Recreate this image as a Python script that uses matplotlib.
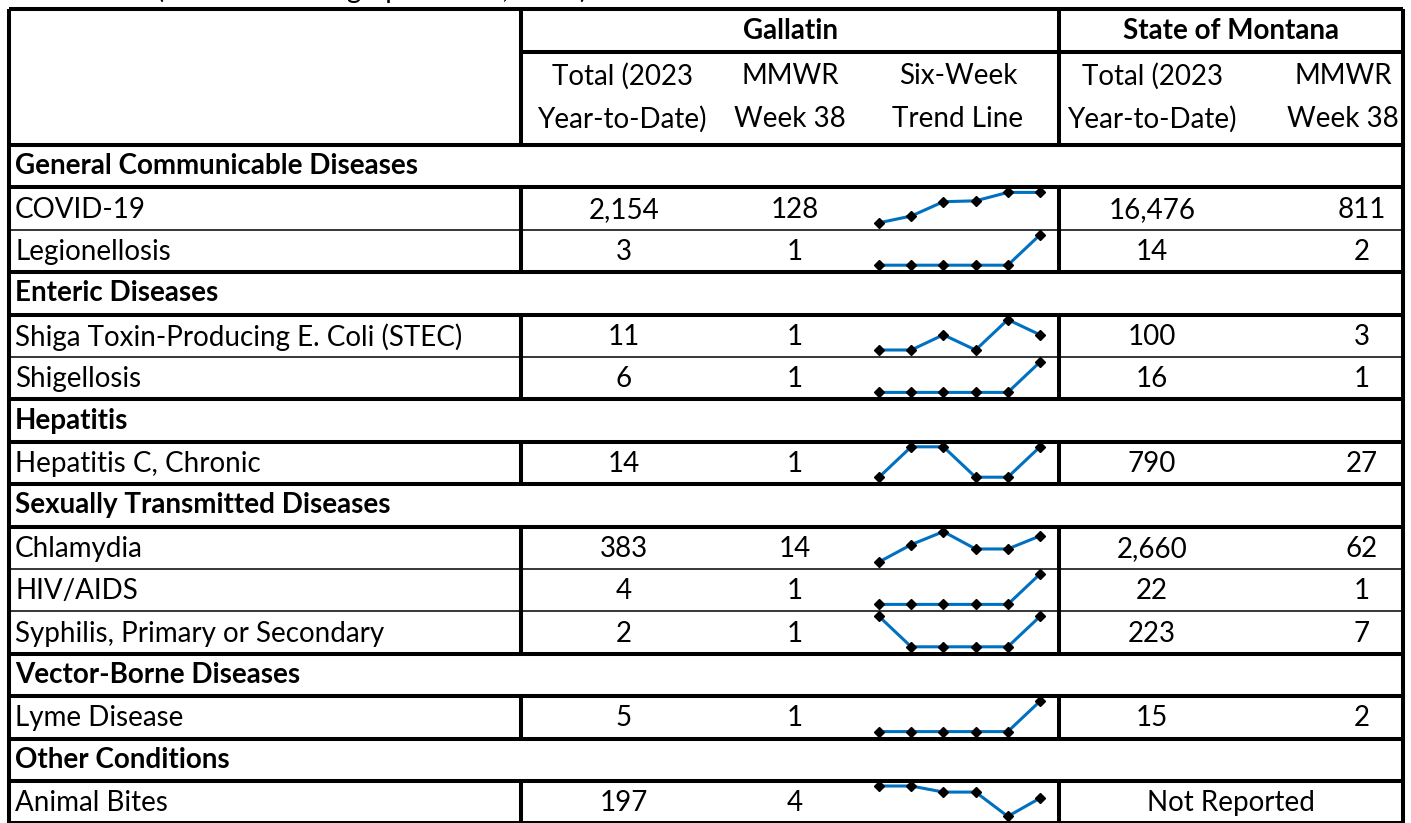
import numpy as np
from matplotlib import pyplot as plt

plt.rcParams['font.family'] = ['Lato', 'DejaVu Sans']

sections = ['General Communicable Diseases', 'Enteric Diseases', 'Hepatitis',
            'Sexually Transmitted Diseases', 'Vector-Borne Diseases', 'Other Conditions']
diseases = ['COVID-19', 'Legionellosis',
            'Shiga Toxin-Producing E. Coli (STEC)', 'Shigellosis',
            'Hepatitis C, Chronic',
            'Chlamydia', 'HIV/AIDS', 'Syphilis, Primary or Secondary',
            'Lyme Disease',
            'Animal Bites']
section_idx = [0, 0, 1, 1, 2, 3, 3, 3, 4, 5]
gallatin_ytd = [2154, 3, 11, 6, 14, 383, 4, 2, 5, 197]
gallatin_wk = [128, 1, 1, 1, 1, 14, 1, 1, 1, 4]
state_ytd = [16476, 14, 100, 16, 790, 2660, 22, 223, 15, None]
state_wk = [811, 2, 3, 1, 27, 62, 1, 7, 2, None]
trend = [
  [92, 100, 117, 118, 128, 128],
  [0, 0, 0, 0, 0, 1],
  [0, 0, 1, 0, 2, 1],
  [0, 0, 0, 0, 0, 1],
  [0, 1, 1, 0, 0, 1],
  [8, 12, 15, 11, 11, 14],
  [0, 0, 0, 0, 0, 1],
  [1, 0, 0, 0, 0, 1],
  [0, 0, 0, 0, 0, 1],
  [6, 6, 5, 5, 1, 4],
]

W, H = 1411, 823
fig = plt.figure(figsize=(W / 100, H / 100), dpi=100)
ax = fig.add_axes([0, 0, 1, 1])
ax.set_xlim(0, W)
ax.set_ylim(H, 0)
ax.axis('off')

FS = 20
THICK = 2.9
THIN = 1.1
x_left, x_lab, x_mid, x_right = 9, 521, 1059, 1403
head_c = [622, 790, 958, 1152, 1343]
num_c = [624, 795, 958, 1152, 1362]

# title line, mostly cut off at the top edge like in the source
ax.text(9, -2, 'Case Totals (Includes Demographic Data, 2023)', fontsize=FS,
        va='baseline', ha='left')

# header
ax.text((x_lab + x_mid) / 2, 31, 'Gallatin', fontsize=FS, weight='bold', ha='center', va='center')
ax.text((x_mid + x_right) / 2, 31, 'State of Montana', fontsize=FS, weight='bold', ha='center', va='center')
head1 = ['Total (2023', 'MMWR', 'Six-Week', 'Total (2023', 'MMWR']
head2 = ['Year-to-Date)', 'Week 38', 'Trend Line', 'Year-to-Date)', 'Week 38']
for c, a, b in zip(head_c, head1, head2):
  ax.text(c, 76, a, fontsize=FS, ha='center', va='center')
  ax.text(c, 119, b, fontsize=FS, ha='center', va='center')

ax.hlines(9, x_left, x_right, color='black', lw=THICK)
ax.hlines(52, x_lab, x_right, color='black', lw=THICK)
ax.hlines(145, x_left, x_right, color='black', lw=THICK)
ax.vlines([x_lab, x_mid], 9, 145, color='black', lw=THICK)
ax.vlines([x_left, x_right], 9, H + 5, color='black', lw=THICK)

# body rows
rh = 42.4
top = 145
row = 0
for s, name in enumerate(sections):
  y0 = top + row * rh
  ax.text(15, y0 + rh / 2, name, fontsize=FS, weight='bold', ha='left', va='center')
  ax.hlines(y0 + rh, x_left, x_right, color='black', lw=THICK)
  row += 1
  items = [i for i in range(len(diseases)) if section_idx[i] == s]
  for k, i in enumerate(items):
    y0 = top + row * rh
    yc = y0 + rh / 2 + 1
    ax.text(15, yc, diseases[i], fontsize=FS, ha='left', va='center')
    ax.text(num_c[0], yc, f'{gallatin_ytd[i]:,}', fontsize=FS, ha='center', va='center')
    ax.text(num_c[1], yc, f'{gallatin_wk[i]:,}', fontsize=FS, ha='center', va='center')
    if state_ytd[i] is None:
      ax.text((x_mid + x_right) / 2, yc, 'Not Reported', fontsize=FS, ha='center', va='center')
    else:
      ax.text(num_c[3], yc, f'{state_ytd[i]:,}', fontsize=FS, ha='center', va='center')
      ax.text(num_c[4], yc, f'{state_wk[i]:,}', fontsize=FS, ha='center', va='center')
    ax.vlines([x_lab, x_mid], y0, y0 + rh, color='black', lw=THICK)
    last = k == len(items) - 1
    ax.hlines(y0 + rh, x_left, x_right, color='black', lw=THICK if last else THIN)

    # six-week trend sparkline
    sa = fig.add_axes([879 / W, 1 - (y0 + rh - 7) / H, 161 / W, (rh - 12) / H])
    v = trend[i]
    sa.plot(range(len(v)), v, color='#0070C0', lw=2.2, marker='D', ms=4.8,
            mfc='black', mec='black', clip_on=False)
    sa.set_xlim(0, len(v) - 1)
    sa.set_ylim(min(v), max(v))
    sa.axis('off')
    row += 1

fig.savefig('out.png', dpi=100)
